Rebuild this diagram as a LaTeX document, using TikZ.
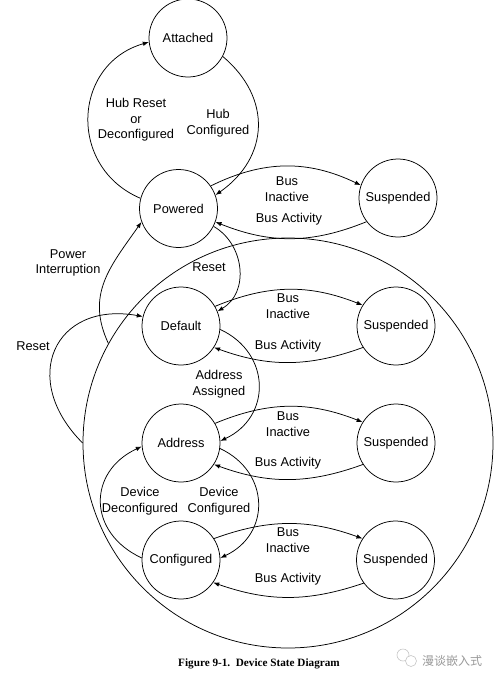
\documentclass[tikz,border=0pt]{standalone}
\usepackage{fontspec}
\setmainfont{Liberation Sans}
\newfontfamily\capfont{Liberation Serif}
\newfontfamily\cjkfont{Noto Sans CJK SC}
\usetikzlibrary{arrows.meta}
\begin{document}
\begin{tikzpicture}[x=1pt,y=1pt,
  st/.style={circle,draw,line width=0.75pt,minimum size=78pt,inner sep=0pt,font=\fontsize{12.8}{15.5}\selectfont},
  lbl/.style={align=center,inner sep=0pt,font=\fontsize{12.8}{15.5}\selectfont},
  edge/.style={draw,line width=0.75pt,-{Latex[length=6pt,width=4.5pt]}}]
\useasboundingbox (0,0) rectangle (498,-681);
% big enclosing circle
\node[circle,draw,line width=0.75pt,minimum size=410pt,inner sep=0pt] (big) at (288,-443) {};
% states
\node[st] (Attached) at (188,-38) {Attached};
\node[st] (Powered) at (178.5,-208.5) {Powered};
\node[st] (S1) at (398,-198) {Suspended};
\node[st] (Default) at (181,-326) {Default};
\node[st] (S2) at (396,-326) {Suspended};
\node[st] (Address) at (181,-443) {Address};
\node[st] (S3) at (396,-443) {Suspended};
\node[st] (Configured) at (181,-560) {Configured};
\node[st] (S4) at (395.5,-560) {Suspended};
% Attached / Powered
\draw[edge] (Attached.-28) to[out=-40,in=35,looseness=1.2] (Powered.20);
\draw[edge] (Powered.165) to[out=157,in=-164,looseness=1.3] (Attached.186);
\node[lbl] (lhr) at (136,-120) {Hub Reset\\or\\Deconfigured};
\node[lbl] (lhc) at (218,-123) {Hub\\Configured};
% suspend loops
\draw[edge] (Powered.35) to[bend left=26] (S1.161);
\draw[edge] (S1.217) to[bend left=22] (Powered.-20);
\node[lbl] (lbi1) at (287,-189) {Bus\\Inactive};
\node[lbl] (lba1) at (289,-219) {Bus Activity};
\draw[edge] (Default.30) to[bend left=22] (S2.148);
\draw[edge] (S2.213) to[bend left=20] (Default.-33);
\node[lbl] (lbi2) at (288,-306) {Bus\\Inactive};
\node[lbl] (lba2) at (288,-346) {Bus Activity};
\draw[edge] (Address.30) to[bend left=22] (S3.148);
\draw[edge] (S3.213) to[bend left=20] (Address.-33);
\node[lbl] (lbi3) at (288,-424) {Bus\\Inactive};
\node[lbl] (lba3) at (288,-463) {Bus Activity};
\draw[edge] (Configured.33) to[bend left=20] (S4.147);
\draw[edge] (S4.216) to[bend left=19] (Configured.-35);
\node[lbl] (lbi4) at (288,-540) {Bus\\Inactive};
\node[lbl] (lba4) at (288,-579) {Bus Activity};
% main chain
\draw[edge] (Powered.-27) to[out=-30,in=30,looseness=1.1] (Default.22);
\node[lbl] (lrs) at (209,-267) {Reset};
\draw[edge] (Default.-5) to[out=-25,in=25,looseness=1.3] (Address.3);
\node[lbl] (laa) at (219,-384) {Address\\Assigned};
\draw[edge] (Address.-8) to[out=-25,in=25,looseness=1.3] (Configured.3);
\node[lbl] (ldc) at (219,-501) {Device\\Configured};
\draw[edge] (Configured.177) to[out=155,in=-155,looseness=1.38] (Address.185);
\node[lbl] (ldd) at (140,-501) {Device\\Deconfigured};
% from the big circle
\draw[edge] (big.151) to[out=115,in=-125,looseness=1.1] (Powered.200);
\node[lbl] (lpi) at (68,-263) {Power\\Interruption};
\draw[edge] (big.180) to[out=135,in=170,looseness=1.65] (Default.166);
\node[lbl] (lrl) at (33,-346) {Reset};
% caption
\node[inner sep=0pt,font=\capfont\bfseries\fontsize{11.2}{13}\selectfont] (cap) at (259,-664) {Figure 9-1.\ \ Device State Diagram};
% watermark
\draw[gray!45,line width=0.6pt] (403,-655) circle (6);
\draw[gray!45,line width=0.6pt,fill=white] (411,-661) circle (5.5);
\node[inner sep=0pt,text=gray!80,font=\cjkfont\fontsize{12}{14}\selectfont] (wm) at (452,-661) {漫谈嵌入式};
\end{tikzpicture}
\end{document}
